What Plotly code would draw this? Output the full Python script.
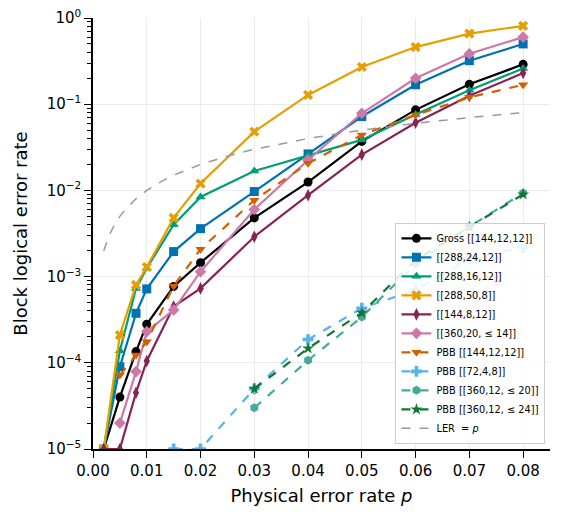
import plotly.graph_objects as go

# physical error rates
p = [0.002, 0.005, 0.008, 0.01, 0.015, 0.02, 0.03, 0.04, 0.05, 0.06, 0.07, 0.08]

# block logical error rates
gross_144 = [1e-5, 4e-5, 1.35e-4, 2.8e-4, 7.7e-4, 1.45e-3, 4.8e-3, 1.25e-2, 3.7e-2, 8.6e-2, 0.17, 0.29]
code_288_24 = [1e-5, 9e-5, 3.75e-4, 7.2e-4, 1.95e-3, 3.6e-3, 9.7e-3, 2.65e-2, 7.2e-2, 0.168, 0.32, 0.50]
code_288_16 = [1e-5, 1.38e-4, 7.3e-4, 1.25e-3, 4.0e-3, 8.4e-3, 1.68e-2, 2.55e-2, 3.85e-2, 7.6e-2, 0.145, 0.26]
code_288_50 = [1e-5, 2.1e-4, 8e-4, 1.29e-3, 4.8e-3, 1.2e-2, 4.8e-2, 0.128, 0.27, 0.46, 0.66, 0.81]
code_144_8 = [1e-5, 1e-5, 4.5e-5, 1.05e-4, 4.5e-4, 7.3e-4, 2.9e-3, 8.8e-3, 2.6e-2, 6.1e-2, 0.125, 0.23]
code_360_20 = [None, 2e-5, 7.9e-5, 2.3e-4, 4.1e-4, 1.14e-3, 6.0e-3, 2.25e-2, 7.85e-2, 0.20, 0.385, 0.60]
pbb_144 = [None, 7.2e-5, 1.23e-4, 1.75e-4, 7.8e-4, 2.08e-3, 7.7e-3, 2.06e-2, 4.4e-2, 7.5e-2, 0.12, 0.168]
pbb_72 = [None, None, None, None, 1e-5, 1e-5, 5e-5, 1.86e-4, 4.3e-4, 7e-4, 1.6e-3, 2.2e-3]
pbb_360_20 = [None, None, None, None, None, None, 3e-5, 1.07e-4, 3.4e-4, 1.4e-3, 3.8e-3, 9.3e-3]
pbb_360_24 = [None, None, None, None, None, None, 5e-5, 1.47e-4, 3.8e-4, 1.55e-3, 3.76e-3, 9e-3]

# LER = p reference line
ler_p = [0.002, 0.0025, 0.003, 0.004, 0.005, 0.006, 0.008, 0.01, 0.0125, 0.015, 0.02,
         0.025, 0.03, 0.04, 0.05, 0.06, 0.07, 0.08]

series = [
    ('Gross [[144,12,12]]', gross_144, '#000000', 'circle', 'solid'),
    ('[[288,24,12]]', code_288_24, '#0072B2', 'square', 'solid'),
    ('[[288,16,12]]', code_288_16, '#009E73', 'triangle-up', 'solid'),
    ('[[288,50,8]]', code_288_50, '#E69F00', 'x', 'solid'),
    ('[[144,8,12]]', code_144_8, '#882255', 'diamond-tall', 'solid'),
    ('[[360,20, ≤ 14]]', code_360_20, '#CC79A7', 'diamond', 'solid'),
    ('PBB [[144,12,12]]', pbb_144, '#D55E00', 'triangle-down', 'dash'),
    ('PBB [[72,4,8]]', pbb_72, '#56B4E9', 'cross', 'dash'),
    ('PBB [[360,12, ≤ 20]]', pbb_360_20, '#44AA99', 'hexagon', 'dash'),
    ('PBB [[360,12, ≤ 24]]', pbb_360_24, '#117733', 'star', 'dash'),
]

fig = go.Figure()
for name, vals, color, symbol, dash in series:
    fig.add_trace(go.Scatter(
        x=p, y=vals, name=name, mode='lines+markers',
        line=dict(color=color, width=2.2, dash=dash),
        marker=dict(color=color, symbol=symbol, size=9, line=dict(width=0)),
    ))

fig.add_trace(go.Scatter(
    x=ler_p, y=ler_p, name='LER  = <i>p</i>', mode='lines',
    line=dict(color='#999999', width=1.5, dash='dash'),
))

minor_y = [m * 10.0 ** e for e in range(-5, 0) for m in range(2, 10)]

# page body adds 8px, so figure is a bit smaller than the window
fig.update_layout(
    width=555, height=509,
    margin=dict(l=85, r=13, t=10, b=68),
    plot_bgcolor='white', paper_bgcolor='white',
    font=dict(family='DejaVu Sans', size=15, color='black'),
    legend=dict(
        x=0.99, y=0.012, xanchor='right', yanchor='bottom',
        font=dict(size=9.8), bgcolor='rgba(255,255,255,0.85)',
        bordercolor='#cccccc', borderwidth=1, itemwidth=30,
        tracegroupgap=0,
    ),
    showlegend=True,
)

fig.update_xaxes(
    range=[0, 0.085], tickvals=[0, 0.01, 0.02, 0.03, 0.04, 0.05, 0.06, 0.07, 0.08],
    tickformat='.2f', showline=True, linecolor='black', linewidth=1.5,
    ticks='outside', ticklen=7, tickwidth=1.3, tickcolor='black',
    showgrid=True, gridcolor='#ebebeb', gridwidth=1, zeroline=False,
    title=dict(text='Physical error rate <i>p</i>', font=dict(size=18), standoff=11),
    tickfont=dict(size=15), automargin=False, ticklabeloverflow='allow',
)

fig.update_yaxes(
    type='log', range=[-5, 0],
    tickvals=[1e-5, 1e-4, 1e-3, 1e-2, 1e-1, 1],
    ticktext=['10<sup>−5</sup>', '10<sup>−4</sup>', '10<sup>−3</sup>',
              '10<sup>−2</sup>', '10<sup>−1</sup>', '10<sup>0</sup>'],
    showline=True, linecolor='black', linewidth=1.5,
    ticks='outside', ticklen=7, tickwidth=1.3, tickcolor='black',
    minor=dict(tickmode='array', tickvals=minor_y, ticks='outside', ticklen=4,
               tickwidth=1, tickcolor='black', showgrid=False),
    showgrid=True, gridcolor='#ebebeb', gridwidth=1, zeroline=False,
    title=dict(text='Block logical error rate', font=dict(size=18), standoff=14),
    tickfont=dict(size=15), automargin=False, ticklabeloverflow='allow',
)

fig.write_html("out.html")
